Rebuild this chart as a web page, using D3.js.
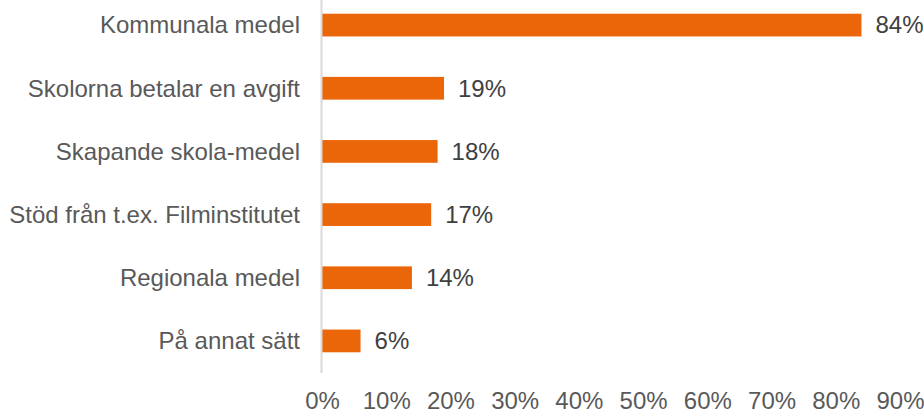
<!DOCTYPE html>
<html>
<head>
<meta charset="utf-8">
<script src="https://cdn.jsdelivr.net/npm/d3@7"></script>
<style>
  body { margin: 0; background: #fff; }
  text { font-family: "Liberation Sans", Arial, sans-serif; }
</style>
</head>
<body>
<div id="chart"></div>
<script>
var svgWidth = 924;
var svgHeight = 410;

// data
var categories = ["Kommunala medel", "Skolorna betalar en avgift", "Skapande skola-medel",
  "Stöd från t.ex. Filminstitutet", "Regionala medel", "På annat sätt"];
var values = [84, 19, 18, 17, 14, 6];
var tickValues = [0, 10, 20, 30, 40, 50, 60, 70, 80, 90];

var x0 = 322, x1 = 900;

var svg = d3.select("#chart")
  .append("svg")
  .attr("width", svgWidth)
  .attr("height", svgHeight);

var xScale = d3.scaleLinear()
  .domain([0, 90])
  .range([x0, x1]);

var yScale = d3.scaleBand()
  .domain(categories)
  .range([-6.5, 372.5])
  .paddingInner(0.64)
  .paddingOuter(0.32);

// bars
svg.selectAll("rect.bar")
  .data(values)
  .enter()
  .append("rect")
  .attr("class", "bar")
  .attr("x", xScale(0))
  .attr("y", (d, i) => yScale(categories[i]))
  .attr("width", d => xScale(d) - xScale(0))
  .attr("height", yScale.bandwidth())
  .attr("fill", "#eb6608");

// vertical axis line
svg.append("line")
  .attr("x1", xScale(0) - 0.5)
  .attr("x2", xScale(0) - 0.5)
  .attr("y1", 0)
  .attr("y2", 373)
  .attr("stroke", "#d9d9d9")
  .attr("stroke-width", 2);

// category labels
svg.selectAll("text.cat")
  .data(categories)
  .enter()
  .append("text")
  .attr("class", "cat")
  .attr("x", 300)
  .attr("y", d => yScale(d) + yScale.bandwidth() / 2)
  .attr("dy", "0.35em")
  .attr("text-anchor", "end")
  .attr("font-size", 24)
  .attr("fill", "#595959")
  .text(d => d);

// value labels
svg.selectAll("text.val")
  .data(values)
  .enter()
  .append("text")
  .attr("class", "val")
  .attr("x", d => xScale(d) + 14)
  .attr("y", (d, i) => yScale(categories[i]) + yScale.bandwidth() / 2)
  .attr("dy", "0.35em")
  .attr("font-size", 24)
  .attr("fill", "#404040")
  .text(d => d + "%");

// x axis tick labels
var xAxis = d3.axisBottom(xScale)
  .tickValues(tickValues)
  .tickSize(0)
  .tickPadding(0)
  .tickFormat(d => d + "%");

var axisG = svg.append("g")
  .attr("transform", "translate(0, 392)")
  .call(xAxis);

axisG.select(".domain").remove();
axisG.selectAll("text")
  .attr("font-size", 24)
  .attr("fill", "#595959")
  .attr("font-family", "Liberation Sans, Arial, sans-serif");
</script>
</body>
</html>
